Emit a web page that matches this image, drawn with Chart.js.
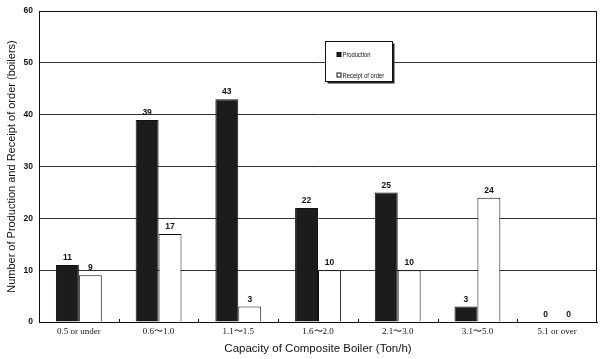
<!DOCTYPE html>
<html>
<head>
<meta charset="utf-8">
<script src="https://cdn.jsdelivr.net/npm/chart.js@4.4.1/dist/chart.umd.min.js"></script>
<style>
html,body{margin:0;padding:0;background:#fff;}
canvas{display:block;}
</style>
</head>
<body>
<canvas id="c" width="600" height="359"></canvas>
<script>
const categories = ["0.5 or under", "0.6\u301C1.0", "1.1\u301C1.5", "1.6\u301C2.0", "2.1\u301C3.0", "3.1\u301C5.0", "5.1 or over"];
const production = [11, 39, 43, 22, 25, 3, 0];
const receiptOfOrder = [9, 17, 3, 10, 10, 24, 0];
const yTicks = [0, 10, 20, 30, 40, 50, 60];
const seriesNames = ["Production", "Receipt of order"];
const xTitle = "Capacity of Composite Boiler (Ton/h)";
const yTitle = "Number of Production and Receipt of order (boilers)";

const valueLabels = {
  id: 'valueLabels',
  afterDatasetsDraw(chart) {
    const ctx = chart.ctx;
    ctx.save();
    ctx.font = 'bold 8.5px "Liberation Sans", Arial, sans-serif';
    ctx.fillStyle = '#111';
    ctx.textAlign = 'center';
    ctx.textBaseline = 'bottom';
    chart.data.datasets.forEach((ds, i) => {
      const meta = chart.getDatasetMeta(i);
      meta.data.forEach((el, j) => {
        ctx.fillText(String(ds.data[j]), el.x, el.y - 3);
      });
    });
    ctx.restore();
  }
};

const frame = {
  id: 'frame',
  afterDraw(chart) {
    const {ctx, chartArea: a} = chart;
    ctx.save();
    ctx.strokeStyle = '#111';
    ctx.lineWidth = 1;
    ctx.strokeRect(Math.round(a.left) + 0.5, Math.round(a.top) + 0.5, Math.round(a.right - a.left) - 1, Math.round(a.bottom - a.top));
    const xs = chart.scales.x;
    for (let i = 1; i < categories.length; i++) {
      const px = Math.round((xs.getPixelForTick(i - 1) + xs.getPixelForTick(i)) / 2) + 0.5;
      ctx.beginPath();
      ctx.moveTo(px, a.bottom);
      ctx.lineTo(px, a.bottom - 3);
      ctx.stroke();
    }
    // legend box
    const w = a.right - a.left, h = a.bottom - a.top;
    const bx = Math.round(a.left + w * 0.512) + 0.5;
    const by = Math.round(a.top + h * 0.096) + 0.5;
    const bw = 67, bh = 40;
    ctx.fillStyle = '#222';
    ctx.fillRect(bx + 2, by + 2, bw, bh);
    ctx.fillStyle = '#fff';
    ctx.fillRect(bx, by, bw, bh);
    ctx.strokeRect(bx, by, bw, bh);
    ctx.textBaseline = 'middle';
    ctx.textAlign = 'left';
    const ds = chart.data.datasets;
    const rows = [by + 13.5, by + 34];
    ds.forEach((d, i) => {
      const y = rows[i];
      ctx.fillStyle = d.backgroundColor;
      ctx.fillRect(bx + 11.5, y - 2.5, 4, 4);
      ctx.strokeStyle = '#111';
      ctx.strokeRect(bx + 11.5, y - 2.5, 4, 4);
      ctx.save();
      ctx.translate(bx + 17, y);
      ctx.scale(0.78, 1);
      ctx.font = '7.5px "Liberation Sans", Arial, sans-serif';
      ctx.fillStyle = '#111';
      ctx.fillText(d.label, 0, 0);
      ctx.restore();
    });
    ctx.restore();
  }
};

new Chart(document.getElementById('c'), {
  type: 'bar',
  data: {
    labels: categories,
    datasets: [
      { label: seriesNames[0], data: production, backgroundColor: '#1c1c1c', borderColor: '#111', borderWidth: 1 },
      { label: seriesNames[1], data: receiptOfOrder, backgroundColor: '#ffffff', borderColor: '#111', borderWidth: 1 }
    ]
  },
  options: {
    responsive: false,
    animation: false,
    devicePixelRatio: 1,
    layout: { padding: { top: 8, right: 3, left: 0, bottom: 0 } },
    datasets: { bar: { barPercentage: 1.0, categoryPercentage: 0.575 } },
    plugins: { legend: { display: false }, tooltip: { enabled: false } },
    scales: {
      x: {
        grid: { display: false, drawTicks: false },
        border: { display: true, color: '#111' },
        ticks: { color: '#111', padding: 4, maxRotation: 0, font: { family: '"Liberation Serif", "Times New Roman", serif', size: 9 } },
        title: { display: true, text: xTitle, color: '#111', padding: { top: 0, bottom: 3 }, font: { family: '"Liberation Sans", Arial, sans-serif', size: 11.5 } },
        afterFit(s) { s.height = 37; }
      },
      y: {
        min: 0, max: 60,
        afterBuildTicks(s) { s.ticks = yTicks.map(v => ({ value: v })); },
        grid: { color: '#333', lineWidth: 1, drawTicks: false },
        border: { display: true, color: '#111' },
        ticks: { color: '#111', padding: 6, font: { family: '"Liberation Sans", Arial, sans-serif', size: 8.5, weight: 'bold' } },
        title: { display: true, text: yTitle, color: '#111', padding: { top: 5, bottom: 0 }, font: { family: '"Liberation Sans", Arial, sans-serif', size: 11 } },
        afterFit(s) { s.width = 39; }
      }
    }
  },
  plugins: [valueLabels, frame]
});
</script>
</body>
</html>
